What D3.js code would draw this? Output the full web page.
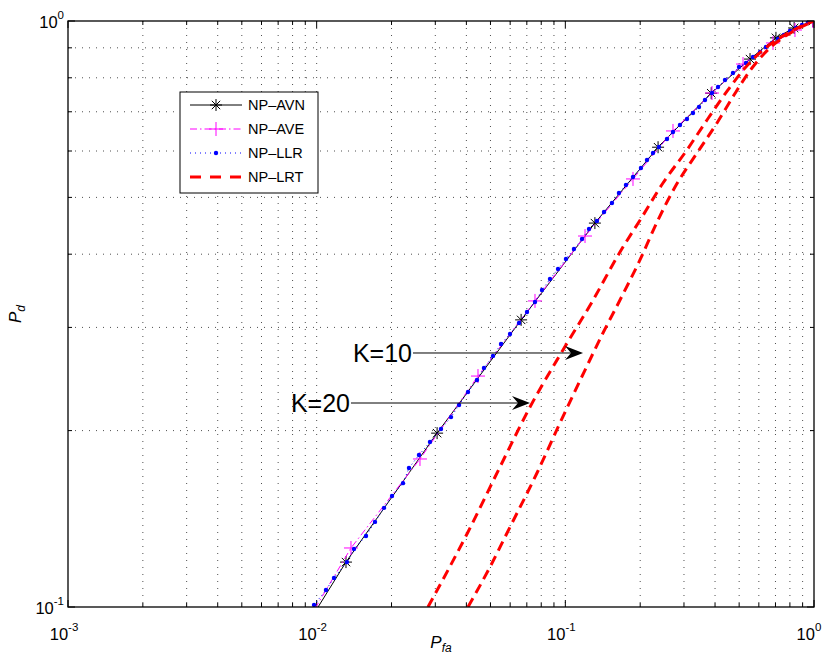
<!DOCTYPE html>
<html>
<head>
<script src="https://d3js.org/d3.v7.min.js"></script>
<style>
body { margin: 0; background: #fff; }
text { font-family: "Liberation Sans", Arial, sans-serif; }
</style>
</head>
<body>
<svg width="825" height="655"></svg>
<script>
// ---- data ----
const avnPfa = [0.00857, 0.01312, 0.0305, 0.0664, 0.1315, 0.236, 0.386, 0.553, 0.703, 0.832, 0.99];
const avnPd  = [0.0892, 0.1193, 0.198, 0.309, 0.452, 0.609, 0.753, 0.861, 0.936, 0.973, 1.0];

const avePfa = [0.00857, 0.01374, 0.02603, 0.04454, 0.07551, 0.1200, 0.1871, 0.2710, 0.3889, 0.5183, 0.6841, 0.8385, 0.99];
const avePd  = [0.0900, 0.1261, 0.1789, 0.2478, 0.3329, 0.4296, 0.5376, 0.6492, 0.7535, 0.8444, 0.9173, 0.9652, 1.0];

const llrPfa = [0.00976, 0.0109, 0.01174, 0.01324, 0.01413, 0.01579, 0.01716, 0.01866, 0.02009, 0.02224,
  0.02351, 0.02579, 0.02855, 0.03162, 0.0347, 0.03737, 0.04061, 0.04413, 0.04708, 0.05118,
  0.05512, 0.05991, 0.06512, 0.07013, 0.07551, 0.08058, 0.08676, 0.09344, 0.1006, 0.1083,
  0.1167, 0.1245, 0.134, 0.1431, 0.154, 0.1643, 0.1753, 0.1871, 0.2014, 0.213,
  0.2252, 0.238, 0.2563, 0.271, 0.2891, 0.3084, 0.3261, 0.3448, 0.3644, 0.3889,
  0.4111, 0.4386, 0.4722, 0.4994, 0.5327, 0.5684, 0.6065, 0.6411, 0.6778, 0.7164,
  0.7573, 0.8005, 0.8464, 0.8948, 0.9458, 0.991];
const llrPd = [0.1008, 0.1069, 0.1121, 0.1193, 0.1256, 0.1322, 0.1397, 0.1476, 0.1547, 0.1627,
  0.1727, 0.1817, 0.1912, 0.2012, 0.2109, 0.2211, 0.2327, 0.244, 0.2557, 0.2682,
  0.2811, 0.2923, 0.3052, 0.3187, 0.3315, 0.3475, 0.3628, 0.3774, 0.3926, 0.4083,
  0.4246, 0.4416, 0.4557, 0.4721, 0.489, 0.5087, 0.5249, 0.5417, 0.5612, 0.5792,
  0.5953, 0.6095, 0.629, 0.6466, 0.6645, 0.6805, 0.6966, 0.7131, 0.7331, 0.7535,
  0.7716, 0.793, 0.8153, 0.8346, 0.8479, 0.8682, 0.8853, 0.9029, 0.9173, 0.9318,
  0.9465, 0.9614, 0.973, 0.9845, 0.9961, 1.0];

const lrt20Pfa = [0.02803, 0.04061, 0.05461, 0.07209, 0.09786, 0.1280, 0.1659, 0.2033, 0.2470, 0.3084, 0.3713, 0.4509, 0.5278, 0.6531, 0.8005, 1.0];
const lrt20Pd  = [0.1, 0.1343, 0.1734, 0.2194, 0.2746, 0.3315, 0.4035, 0.4628, 0.5291, 0.6025, 0.6778, 0.7626, 0.8313, 0.9064, 0.9576, 1.0];

const lrt10Pfa = [0.04061, 0.04977, 0.05991, 0.07691, 0.09517, 0.1200, 0.1417, 0.1659, 0.1996, 0.2358, 0.2761, 0.3385, 0.4073, 0.4767, 0.5631, 0.6778, 0.8156, 1.0];
const lrt10Pd  = [0.1, 0.1170, 0.1369, 0.1693, 0.2061, 0.2537, 0.2935, 0.3341, 0.3911, 0.4574, 0.5208, 0.5953, 0.6698, 0.7477, 0.8313, 0.9064, 0.9576, 1.0];

const legendNames = ["NP–AVN", "NP–AVE", "NP–LLR", "NP–LRT"];
const xTickExp = [-3, -2, -1, 0];
const yTickExp = [-1, 0];
// annotation arrows: label, Pd level, tail Pfa, tip Pfa
const notes = [
  {label: "K=10", pd: 0.2713, from: 0.0244, to: 0.1178},
  {label: "K=20", pd: 0.2229, from: 0.01374, to: 0.0721}
];

// ---- layout ----
const svg = d3.select("svg");
const L = 68, R = 814, T = 21, B = 607;
const x = d3.scaleLog().domain([1e-3, 1]).range([L, R]);
const y = d3.scaleLog().domain([0.1, 1]).range([B, T]);

svg.append("rect").attr("width", 825).attr("height", 655).attr("fill", "#fff");
svg.append("clipPath").attr("id", "clip")
  .append("rect").attr("x", L).attr("y", T).attr("width", R - L).attr("height", B - T);

// grid (major + minor, dotted)
const grid = svg.append("g").attr("stroke", "#222").attr("stroke-width", 0.8)
  .attr("stroke-dasharray", "1,6");
x.ticks().filter(v => x(v) > L + 1 && x(v) < R - 1).forEach(v => {
  grid.append("line").attr("x1", x(v)).attr("x2", x(v)).attr("y1", T).attr("y2", B);
});
y.ticks().filter(v => y(v) > T + 1 && y(v) < B - 1).forEach(v => {
  grid.append("line").attr("x1", L).attr("x2", R).attr("y1", y(v)).attr("y2", y(v));
});

// tick marks on all four sides, pointing inward
const isMajor = v => Math.abs(Math.log10(v) - Math.round(Math.log10(v))) < 1e-9;
const ticks = svg.append("g").attr("stroke", "#000").attr("stroke-width", 1);
x.ticks().forEach(v => {
  const len = isMajor(v) ? 7 : 4;
  ticks.append("line").attr("x1", x(v)).attr("x2", x(v)).attr("y1", B).attr("y2", B - len);
  ticks.append("line").attr("x1", x(v)).attr("x2", x(v)).attr("y1", T).attr("y2", T + len);
});
y.ticks().forEach(v => {
  const len = isMajor(v) ? 7 : 4;
  ticks.append("line").attr("y1", y(v)).attr("y2", y(v)).attr("x1", L).attr("x2", L + len);
  ticks.append("line").attr("y1", y(v)).attr("y2", y(v)).attr("x1", R).attr("x2", R - len);
});

// tick labels 10^k
function powText(g, px, py, k, anchor) {
  const t = g.append("text").attr("x", px).attr("y", py).attr("text-anchor", anchor)
    .attr("font-size", 16.5).attr("fill", "#000");
  t.append("tspan").text("10");
  t.append("tspan").attr("dy", -9).attr("font-size", 11.5).text(k);
}
const lab = svg.append("g");
xTickExp.forEach(k => powText(lab, Math.min(x(Math.pow(10, k)) - 4, 809), 640, k, "middle"));
yTickExp.forEach(k => powText(lab, 64, y(Math.pow(10, k)) + 7, k, "end"));

// axis titles
const xt = svg.append("text").attr("x", (L + R) / 2).attr("y", 648).attr("text-anchor", "middle")
  .attr("font-family", "Liberation Serif, serif").attr("font-style", "italic").attr("font-size", 17);
xt.append("tspan").text("P");
xt.append("tspan").attr("dy", 4).attr("font-size", 12).text("fa");
const yt = svg.append("text").attr("transform", `translate(21,${(T + B) / 2}) rotate(-90)`)
  .attr("text-anchor", "middle")
  .attr("font-family", "Liberation Serif, serif").attr("font-style", "italic").attr("font-size", 17);
yt.append("tspan").text("P");
yt.append("tspan").attr("dy", 4).attr("font-size", 12).text("d");

// ---- series ----
const plot = svg.append("g").attr("clip-path", "url(#clip)");
const zip = (a, b) => a.map((v, i) => [v, b[i]]);
const line = d3.line().x(d => x(d[0])).y(d => y(d[1]));
const smooth = d3.line().x(d => x(d[0])).y(d => y(d[1])).curve(d3.curveMonotoneX);

const starPath = s => `M${-s},0H${s}M0,${-s}V${s}M${-s * 0.7},${-s * 0.7}L${s * 0.7},${s * 0.7}M${-s * 0.7},${s * 0.7}L${s * 0.7},${-s * 0.7}`;
const plusPath = s => `M${-s},0H${s}M0,${-s}V${s}`;

const avn = zip(avnPfa, avnPd), ave = zip(avePfa, avePd), llr = zip(llrPfa, llrPd);

plot.append("path").attr("d", line(avn)).attr("fill", "none").attr("stroke", "#000").attr("stroke-width", 1);
plot.selectAll(".star").data(avn).enter().append("path")
  .attr("transform", d => `translate(${x(d[0])},${y(d[1])})`)
  .attr("d", starPath(6)).attr("stroke", "#000").attr("stroke-width", 1).attr("fill", "none");

plot.append("path").attr("d", line(ave)).attr("fill", "none").attr("stroke", "#ff00ff")
  .attr("stroke-width", 1).attr("stroke-dasharray", "7,3,1.5,3");
plot.selectAll(".plus").data(ave).enter().append("path")
  .attr("transform", d => `translate(${x(d[0])},${y(d[1])})`)
  .attr("d", plusPath(7)).attr("stroke", "#ff00ff").attr("stroke-width", 1).attr("fill", "none");

plot.append("path").attr("d", line(llr)).attr("fill", "none").attr("stroke", "#0000ff")
  .attr("stroke-width", 1).attr("stroke-dasharray", "1,3");
plot.selectAll(".dot").data(llr).enter().append("circle")
  .attr("cx", d => x(d[0])).attr("cy", d => y(d[1])).attr("r", 2.2).attr("fill", "#0000ff");

[zip(lrt10Pfa, lrt10Pd), zip(lrt20Pfa, lrt20Pd)].forEach(s => {
  plot.append("path").attr("d", smooth(s)).attr("fill", "none").attr("stroke", "#ff0000")
    .attr("stroke-width", 3).attr("stroke-dasharray", "10,6");
});

// axes box
svg.append("rect").attr("x", L).attr("y", T).attr("width", R - L).attr("height", B - T)
  .attr("fill", "none").attr("stroke", "#000").attr("stroke-width", 1.3);

// ---- annotations ----
notes.forEach(n => {
  const yy = y(n.pd), x0 = x(n.from), x1 = x(n.to);
  svg.append("line").attr("x1", x0).attr("x2", x1 - 10).attr("y1", yy).attr("y2", yy)
    .attr("stroke", "#000").attr("stroke-width", 1);
  svg.append("path")
    .attr("d", `M${x1},${yy}L${x1 - 18},${yy - 7}L${x1 - 12},${yy}L${x1 - 18},${yy + 7}Z`)
    .attr("fill", "#000");
  svg.append("text").attr("x", x0 - 1).attr("y", yy + 9).attr("text-anchor", "end")
    .attr("font-size", 25).attr("fill", "#000").text(n.label);
});

// ---- legend ----
const lg = svg.append("g");
lg.append("rect").attr("x", 180).attr("y", 92).attr("width", 138).attr("height", 101)
  .attr("fill", "#fff").attr("stroke", "#000").attr("stroke-width", 1);
const rowY = [105, 129, 153, 177];
legendNames.forEach((name, i) => {
  const yy = rowY[i];
  const ln = lg.append("line").attr("x1", 190).attr("x2", 242).attr("y1", yy).attr("y2", yy);
  if (i === 0) {
    ln.attr("stroke", "#000").attr("stroke-width", 1);
    lg.append("path").attr("transform", `translate(216,${yy})`).attr("d", starPath(6))
      .attr("stroke", "#000").attr("fill", "none");
  } else if (i === 1) {
    ln.attr("stroke", "#ff00ff").attr("stroke-dasharray", "7,3,1.5,3");
    lg.append("path").attr("transform", `translate(216,${yy})`).attr("d", plusPath(7))
      .attr("stroke", "#ff00ff").attr("fill", "none");
  } else if (i === 2) {
    ln.attr("stroke", "#0000ff").attr("stroke-dasharray", "1,4");
    lg.append("circle").attr("cx", 216).attr("cy", yy).attr("r", 2.2).attr("fill", "#0000ff");
  } else {
    ln.attr("stroke", "#ff0000").attr("stroke-width", 3).attr("stroke-dasharray", "11,9");
  }
  lg.append("text").attr("x", 248).attr("y", yy + 5).attr("font-size", 14.5).attr("fill", "#000").text(name);
});
</script>
</body>
</html>
